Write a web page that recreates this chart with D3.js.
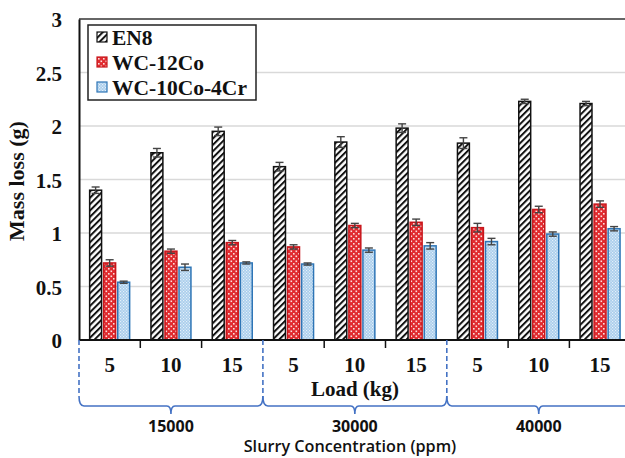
<!DOCTYPE html>
<html>
<head>
<meta charset="utf-8">
<script src="https://cdn.jsdelivr.net/npm/d3@7"></script>
<style>
  body { margin: 0; background: #fff; }
  svg { display: block; }
</style>
</head>
<body>
<svg id="chart" width="625" height="458"></svg>
<script>
// data
const groups = ["15000", "30000", "40000"];
const loads = ["5", "10", "15"];
const series = ["EN8", "WC-12Co", "WC-10Co-4Cr"];
const en8 = [1.40, 1.75, 1.95, 1.62, 1.85, 1.98, 1.84, 2.23, 2.21];
const wc12 = [0.72, 0.83, 0.91, 0.87, 1.07, 1.10, 1.05, 1.22, 1.27];
const wc10 = [0.54, 0.68, 0.72, 0.71, 0.84, 0.88, 0.92, 0.99, 1.04];
const en8Err = [0.03, 0.04, 0.04, 0.04, 0.05, 0.04, 0.05, 0.02, 0.02];
const wc12Err = [0.03, 0.02, 0.02, 0.02, 0.02, 0.03, 0.04, 0.03, 0.03];
const wc10Err = [0.01, 0.03, 0.01, 0.01, 0.02, 0.03, 0.03, 0.02, 0.02];
const yTicks = [0, 0.5, 1, 1.5, 2, 2.5, 3];

const values = [en8, wc12, wc10];
const errs = [en8Err, wc12Err, wc10Err];

const svg = d3.select("#chart");
const mLeft = 79, mTop = 19, mBottom = 340;
const catW = 61.3;
const mRight = mLeft + catW * 9;

const cats = [];
groups.forEach((g, gi) => loads.forEach((l, li) => cats.push({ g: g, gi: gi, l: l, i: gi * 3 + li })));

const x0 = d3.scaleBand().domain(d3.range(9)).range([mLeft, mRight]);
const x1 = d3.scaleBand().domain(series).range([-20, 20]).paddingInner(0.15);
const y = d3.scaleLinear().domain([0, 3]).range([mBottom, mTop]);

const serif = "'Liberation Serif', 'Times New Roman', serif";
const sans = "'Open Sans', 'Liberation Sans', sans-serif";

// patterns
const defs = svg.append("defs");
const p1 = defs.append("pattern").attr("id", "hatch").attr("patternUnits", "userSpaceOnUse")
  .attr("width", 4.5).attr("height", 4.5).attr("patternTransform", "rotate(45)");
p1.append("rect").attr("width", 4.5).attr("height", 4.5).attr("fill", "#fff");
p1.append("rect").attr("width", 2).attr("height", 4.5).attr("fill", "#111");

const p2 = defs.append("pattern").attr("id", "dots").attr("patternUnits", "userSpaceOnUse")
  .attr("width", 5).attr("height", 5);
p2.append("rect").attr("width", 5).attr("height", 5).attr("fill", "#e02b2f");
p2.append("rect").attr("x", 0.5).attr("y", 0.5).attr("width", 1.6).attr("height", 1.6).attr("fill", "#fbdede");
p2.append("rect").attr("x", 3).attr("y", 3).attr("width", 1.6).attr("height", 1.6).attr("fill", "#fbdede");

const p3 = defs.append("pattern").attr("id", "fine").attr("patternUnits", "userSpaceOnUse")
  .attr("width", 3).attr("height", 3);
p3.append("rect").attr("width", 3).attr("height", 3).attr("fill", "#a9cdec");
p3.append("rect").attr("x", 0).attr("y", 0).attr("width", 1.2).attr("height", 1.2).attr("fill", "#e4f0fa");
p3.append("rect").attr("x", 1.5).attr("y", 1.5).attr("width", 1.2).attr("height", 1.2).attr("fill", "#e4f0fa");

const fills = ["url(#hatch)", "url(#dots)", "url(#fine)"];
const strokes = ["#111", "#c8161b", "#2e75b6"];

// gridlines
svg.append("g").selectAll("line").data(yTicks.filter(t => t > 0 && t < 3)).join("line")
  .attr("x1", mLeft).attr("x2", 625).attr("y1", d => y(d)).attr("y2", d => y(d))
  .attr("stroke", "#d9d9d9").attr("stroke-width", 1.5);
svg.append("line").attr("x1", mLeft).attr("x2", 625).attr("y1", y(3)).attr("y2", y(3))
  .attr("stroke", "#333").attr("stroke-width", 1.5);

// bars
series.forEach((s, si) => {
  const g = svg.append("g");
  g.selectAll("rect").data(cats).join("rect")
    .attr("x", d => x0(d.i) + x0.bandwidth() / 2 + x1(s))
    .attr("y", d => y(values[si][d.i]))
    .attr("width", x1.bandwidth())
    .attr("height", d => y(0) - y(values[si][d.i]))
    .attr("fill", fills[si]).attr("stroke", strokes[si]).attr("stroke-width", 1.5);
  // error bars
  const eb = svg.append("g").attr("stroke", "#444").attr("stroke-width", 1.4);
  cats.forEach(d => {
    const cx = x0(d.i) + x0.bandwidth() / 2 + x1(s) + x1.bandwidth() / 2;
    const v = values[si][d.i], e = errs[si][d.i];
    eb.append("line").attr("x1", cx).attr("x2", cx).attr("y1", y(v - e)).attr("y2", y(v + e));
    eb.append("line").attr("x1", cx - 4).attr("x2", cx + 4).attr("y1", y(v + e)).attr("y2", y(v + e));
    eb.append("line").attr("x1", cx - 4).attr("x2", cx + 4).attr("y1", y(v - e)).attr("y2", y(v - e));
  });
});

// y axis
const yAxis = svg.append("g").attr("transform", `translate(${mLeft},0)`)
  .call(d3.axisLeft(y).tickValues(yTicks).tickSize(0).tickPadding(17).tickFormat(d3.format("")));
yAxis.select(".domain").attr("stroke", "#111").attr("stroke-width", 2);
yAxis.selectAll("text").attr("font-family", serif).attr("font-weight", "bold")
  .attr("font-size", 21).attr("fill", "#111").attr("dy", "0.36em");

// x axis
const xAxis = svg.append("g").attr("transform", `translate(0,${mBottom})`);
xAxis.append("line").attr("x1", mLeft).attr("x2", 625).attr("stroke", "#111").attr("stroke-width", 2);
xAxis.selectAll(".tk").data(d3.range(1, 9).filter(i => i % 3 !== 0)).join("line")
  .attr("x1", i => x0(i)).attr("x2", i => x0(i)).attr("y1", 0).attr("y2", 8)
  .attr("stroke", "#111").attr("stroke-width", 1.5);
xAxis.selectAll("text").data(cats).join("text")
  .attr("x", d => x0(d.i) + x0.bandwidth() / 2).attr("y", 32)
  .attr("text-anchor", "middle").attr("font-family", serif).attr("font-weight", "bold")
  .attr("font-size", 21).attr("fill", "#111").text(d => d.l);

svg.append("text").attr("x", 355).attr("y", 396).attr("text-anchor", "middle")
  .attr("font-family", serif).attr("font-weight", "bold").attr("font-size", 21).attr("fill", "#111")
  .text("Load (kg)");

svg.append("text").attr("transform", "translate(24,181) rotate(-90)").attr("text-anchor", "middle")
  .attr("font-family", serif).attr("font-weight", "bold").attr("font-size", 22).attr("fill", "#111")
  .text("Mass loss (g)");

// group braces
const blue = "#4472c4";
const bg = svg.append("g").attr("fill", "none").attr("stroke", blue).attr("stroke-width", 1.6);
d3.range(4).forEach(k => {
  const xx = k < 3 ? x0(k * 3) : mRight;
  bg.append("line").attr("x1", xx).attr("x2", xx).attr("y1", mBottom).attr("y2", 396)
    .attr("stroke-dasharray", "5,3");
});
groups.forEach((g, gi) => {
  const a = x0(gi * 3), b = gi === 2 ? mRight : x0(gi * 3 + 3);
  const m = (a + b) / 2, yb = 406;
  bg.append("path").attr("d",
    `M${a},396 Q${a},${yb} ${a + 5},${yb} L${m - 4},${yb} Q${m},${yb} ${m},${yb + 8}` +
    ` Q${m},${yb} ${m + 4},${yb} L${b - 5},${yb} Q${b},${yb} ${b},396`);
  svg.append("text").attr("x", m).attr("y", 432).attr("text-anchor", "middle")
    .attr("font-family", sans).attr("font-weight", "bold").attr("font-size", 16).attr("fill", "#111")
    .text(g);
});
svg.append("text").attr("x", 350).attr("y", 452).attr("text-anchor", "middle")
  .attr("font-family", sans).attr("font-weight", 600).attr("font-size", 16.2).attr("fill", "#111")
  .text("Slurry Concentration (ppm)");

// legend
const lg = svg.append("g");
lg.append("rect").attr("x", 88).attr("y", 25).attr("width", 168).attr("height", 75)
  .attr("fill", "#fff").attr("stroke", "#222").attr("stroke-width", 1.5);
series.forEach((s, si) => {
  const yy = 37 + si * 25;
  lg.append("rect").attr("x", 97).attr("y", yy - 5).attr("width", 10).attr("height", 10)
    .attr("fill", fills[si]).attr("stroke", strokes[si]).attr("stroke-width", 1.2);
  lg.append("text").attr("x", 112).attr("y", yy).attr("dy", "0.35em")
    .attr("font-family", serif).attr("font-weight", "bold").attr("font-size", 21.5).attr("fill", "#111")
    .text(s);
});
</script>
</body>
</html>
